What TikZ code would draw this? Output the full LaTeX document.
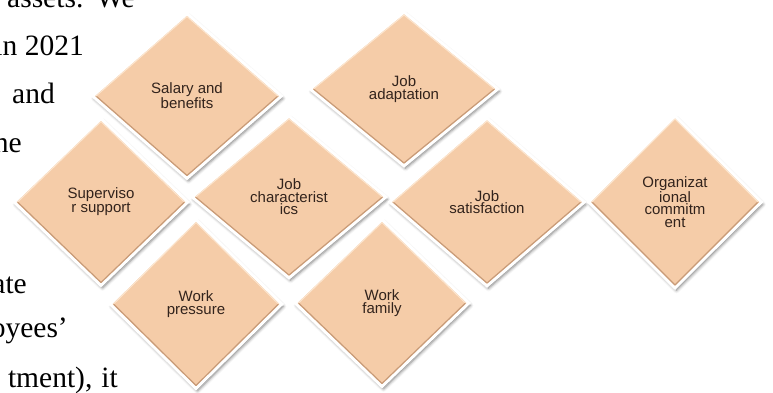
\documentclass[tikz,border=0pt]{standalone}
\usepackage{fontspec}
\setmainfont{Liberation Serif}
\newfontfamily\arialf{Liberation Sans}
\usetikzlibrary{shapes.geometric,shadows.blur}
\definecolor{peach}{RGB}{245,204,168}
\definecolor{ink}{RGB}{50,35,28}
\definecolor{bevdark}{RGB}{200,155,120}
\definecolor{bevlight}{RGB}{252,230,208}
\tikzset{
 dia/.style={diamond, draw=white, line width=3pt, fill=peach, inner sep=0pt, align=center, text=ink,
   font=\arialf\fontsize{15}{12.5}\selectfont,
   blur shadow={shadow xshift=1.5pt, shadow yshift=-2.5pt, shadow blur radius=3pt, shadow opacity=50}},
 para/.style={anchor=base east, inner sep=0pt, font=\fontsize{29.5}{31}\selectfont, text=black},
 bevd/.style={draw=bevdark, line width=1.2pt, line join=round},
 bevl/.style={draw=bevlight, line width=1pt, line join=round}
}
\newcommand\dbevel[1]{%
  \draw[bevd] ([xshift=5.5pt]#1.west) -- ([yshift=5pt]#1.south) -- ([xshift=-5.5pt]#1.east);
  \draw[bevl] ([xshift=5.5pt]#1.west) -- ([yshift=-5pt]#1.north) -- ([xshift=-5.5pt]#1.east);}
\begin{document}
\begin{tikzpicture}[x=1pt,y=-1pt]
\useasboundingbox (0,0) rectangle (773,392);
\clip (0,0) rectangle (773,392);
% wrapped paragraph fragments
\node[para] (t1) at (135,7) {r assets.\hspace{3pt} We};
\node[para] (t2) at (84,55) {in 2021};
\node[para] (t3) at (55,103) {and};
\node[para] (t4) at (22,152) {he};
\node[para] (t5) at (27,293) {ate};
\node[para] (t6) at (68,337) {oyees’};
\node[para] (t7) at (118,387) {tment),\hspace{9pt}it};
% diamonds
\node[dia, minimum width=190pt, minimum height=166pt] (sal) at (187,96) {Salary and\\benefits};
\node[dia, minimum width=189pt, minimum height=155pt] (ada) at (404,89) {Job\\adaptation};
\node[dia, minimum width=175pt, minimum height=168pt] (sup) at (101,202) {Superviso\\r support};
\node[dia, minimum width=195pt, minimum height=163pt] (jch) at (289,197) {Job\\characterist\\ics};
\node[dia, minimum width=196pt, minimum height=169pt] (jsat) at (487,202) {Job\\satisfaction};
\node[dia, minimum width=174pt, minimum height=173pt] (org) at (675,202) {Organizat\\ional\\commitm\\ent};
\node[dia, minimum width=173pt, minimum height=170pt] (wp) at (196,304) {Work\\pressure};
\node[dia, minimum width=175pt, minimum height=168pt] (wf) at (382,303) {Work\\family};
\dbevel{sal}\dbevel{ada}\dbevel{sup}\dbevel{jch}\dbevel{jsat}\dbevel{org}\dbevel{wp}\dbevel{wf}
\end{tikzpicture}
\end{document}
